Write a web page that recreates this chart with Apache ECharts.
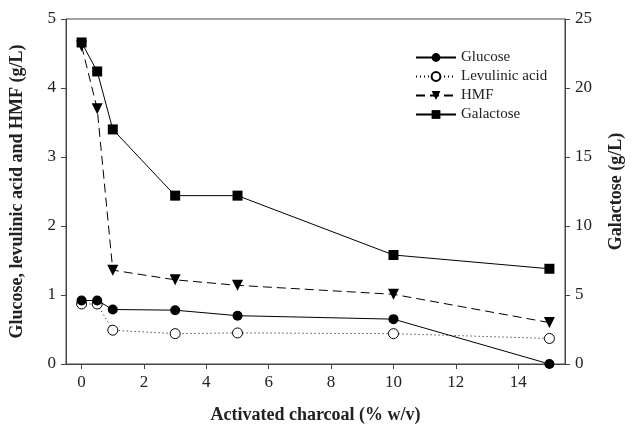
<!DOCTYPE html>
<html>
<head>
<meta charset="utf-8">
<script src="https://cdn.jsdelivr.net/npm/echarts@6/dist/echarts.min.js"></script>
<style>
  html, body { margin: 0; padding: 0; background: #fff; }
  #chart { width: 633px; height: 429px; }
</style>
</head>
<body>
<div id="chart"></div>
<script>
const charcoal = [0, 0.5, 1, 3, 5, 10, 15];
const glucose = [0.92, 0.92, 0.79, 0.78, 0.70, 0.65, 0.0];
const levulinic = [0.87, 0.87, 0.49, 0.44, 0.45, 0.44, 0.37];
const hmf = [4.61, 3.70, 1.36, 1.22, 1.14, 1.01, 0.60];
const galactose = [23.3, 21.2, 17.0, 12.2, 12.2, 7.9, 6.9];
const xTicks = [0, 2, 4, 6, 8, 10, 12, 14];

const pairs = (ys) => charcoal.map((x, i) => [x, ys[i]]);

const font = "Liberation Serif";
const axisColor = "#444";

let chart = echarts.init(document.getElementById("chart"));

chart.setOption({
  animation: false,
  textStyle: { fontFamily: font },
  grid: {
    left: 63, right: 61, top: 19, bottom: 57,
    show: true, borderColor: axisColor, borderWidth: 1,
  },
  legend: {
    orient: "vertical",
    left: 410,
    top: 45,
    itemWidth: 40,
    itemHeight: 11,
    itemGap: 4,
    textStyle: { fontFamily: font, fontSize: 15, color: "#222" },
    data: ["Glucose", "Levulinic acid", "HMF", "Galactose"],
  },
  xAxis: {
    type: "value",
    min: -0.5,
    max: 15.5,
    name: "Activated charcoal (% w/v)",
    nameLocation: "middle",
    nameGap: 42,
    nameTextStyle: { fontFamily: font, fontSize: 18, fontWeight: "bold", color: "#222" },
    axisLine: { onZero: false, lineStyle: { color: axisColor } },
    axisTick: { customValues: xTicks, length: 5, lineStyle: { color: axisColor } },
    axisLabel: { customValues: xTicks, fontSize: 17, color: "#222", margin: 10 },
    splitLine: { show: false },
  },
  yAxis: [
    {
      type: "value",
      min: 0, max: 5, interval: 1,
      position: "left",
      name: "Glucose, levulinic acid and HMF (g/L)",
      nameLocation: "middle",
      nameGap: 40,
      nameTextStyle: { fontFamily: font, fontSize: 18, fontWeight: "bold", color: "#222" },
      axisLine: { show: true, onZero: false, lineStyle: { color: axisColor } },
      axisTick: { show: true, length: 5, lineStyle: { color: axisColor } },
      axisLabel: { fontSize: 17, color: "#222", margin: 10 },
      splitLine: { show: false },
    },
    {
      type: "value",
      min: 0, max: 25, interval: 5,
      position: "right",
      name: "Galactose (g/L)",
      nameLocation: "middle",
      nameGap: 42,
      nameRotate: 90,
      nameTextStyle: { fontFamily: font, fontSize: 18, fontWeight: "bold", color: "#222" },
      axisLine: { show: true, onZero: false, lineStyle: { color: axisColor } },
      axisTick: { show: true, length: 5, lineStyle: { color: axisColor } },
      axisLabel: { fontSize: 17, color: "#222", margin: 10 },
      splitLine: { show: false },
    },
  ],
  series: [
    {
      name: "Glucose",
      type: "line",
      yAxisIndex: 0,
      data: pairs(glucose),
      symbol: "circle",
      symbolSize: 10,
      itemStyle: { color: "#000" },
      lineStyle: { color: "#000", width: 1 },
      z: 4,
    },
    {
      name: "Levulinic acid",
      type: "line",
      yAxisIndex: 0,
      data: pairs(levulinic),
      symbol: "circle",
      symbolSize: 10,
      showAllSymbol: true,
      itemStyle: { color: "#fff", borderColor: "#000", borderWidth: 1 },
      lineStyle: { color: "#000", width: 1, type: [1, 3] },
      z: 3,
    },
    {
      name: "HMF",
      type: "line",
      yAxisIndex: 0,
      data: pairs(hmf),
      symbol: "triangle",
      symbolRotate: 180,
      symbolSize: 11,
      itemStyle: { color: "#000" },
      lineStyle: { color: "#000", width: 1, type: [9, 5] },
      z: 3,
    },
    {
      name: "Galactose",
      type: "line",
      yAxisIndex: 1,
      data: pairs(galactose),
      symbol: "rect",
      symbolSize: 10,
      itemStyle: { color: "#000" },
      lineStyle: { color: "#000", width: 1 },
      z: 3,
    },
  ],
});
</script>
</body>
</html>
